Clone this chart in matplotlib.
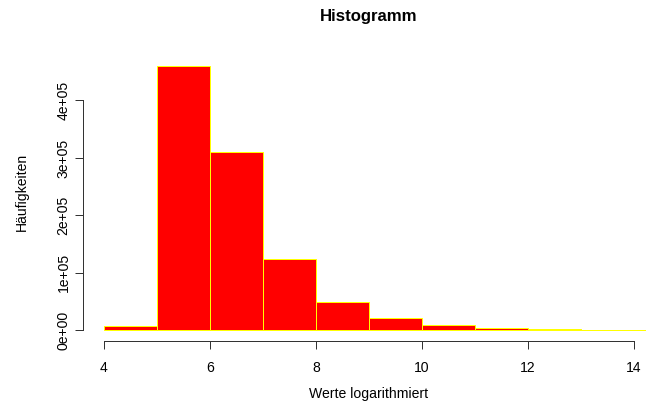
import matplotlib
matplotlib.use("Agg")
from matplotlib import pyplot as plt
import numpy as np

# bin edges and counts
edges = [4, 5, 6, 7, 8, 9, 10, 11, 12, 13, 15]
counts = [8300, 460000, 310000, 124000, 49000, 21000, 10000, 4300, 2100, 500]
xticks = [4, 6, 8, 10, 12, 14]
yticks = [0, 100000, 200000, 300000, 400000]
ytick_labels = ["0e+00", "1e+05", "2e+05", "3e+05", "4e+05"]

plt.rcParams['font.family'] = ['Liberation Sans', 'DejaVu Sans']

W, H = 646, 414
fig = plt.figure(figsize=(W / 72, H / 72), dpi=72)
# plot region in pixels (R style, right side runs past the picture edge)
left, right, top, bottom = 82.7, 655.0, 55.4, 341.0
ax = fig.add_axes([left / W, (H - bottom) / H, (right - left) / W, (bottom - top) / H])

ax.hist(edges[:-1], bins=edges, weights=counts, color='#ff0000',
        edgecolor='#ffff00', linewidth=1)

ax.set_xlim(3.6, 14.4)
ax.set_ylim(-0.04 * 460000, 1.04 * 460000)

for s in ['top', 'right']:
    ax.spines[s].set_visible(False)
ax.spines['left'].set_bounds(0, 400000)
ax.spines['bottom'].set_bounds(4, 14)
for s in ['left', 'bottom']:
    ax.spines[s].set_color('#333333')
    ax.spines[s].set_linewidth(1)

ax.set_xticks(xticks)
ax.set_xticklabels([str(v) for v in xticks])
ax.set_yticks(yticks)
ax.set_yticklabels(ytick_labels, rotation=90, va='center')
ax.tick_params(axis='both', direction='out', length=8, width=1, color='#333333',
               labelsize=14, labelcolor='black')
ax.tick_params(axis='x', pad=12.5)
ax.tick_params(axis='y', pad=4)

cx = (left + right) / 2
fig.text(cx / W, (H - 17) / H, "Histogramm", ha='center', va='center',
         fontsize=16.8, fontweight='bold')
fig.text(cx / W, (H - 394) / H, "Werte logarithmiert", ha='center', va='center',
         fontsize=14)
fig.text(22 / W, (H - 192) / H, "Häufigkeiten", ha='center',
         va='center', rotation=90, fontsize=14)

fig.savefig("out.png", dpi=72)
